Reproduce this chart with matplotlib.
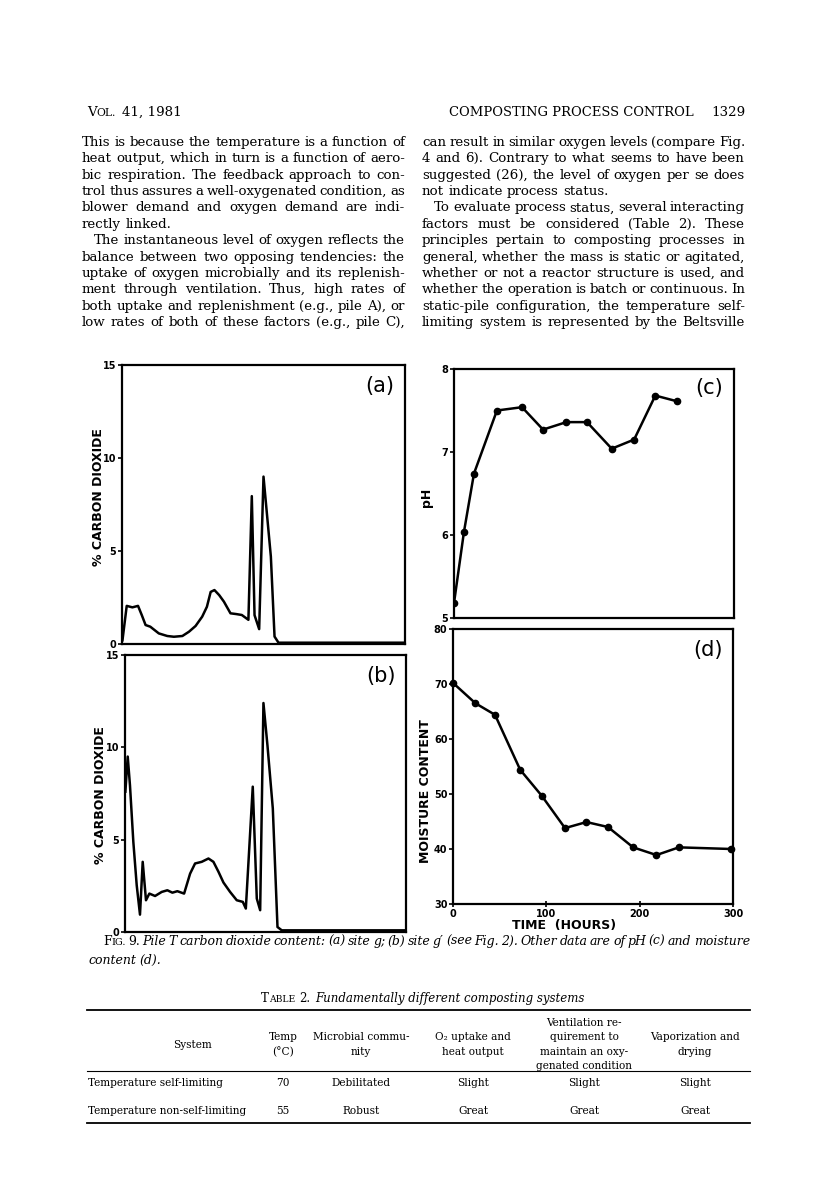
import numpy as np
import matplotlib
matplotlib.use("Agg")
import matplotlib.pyplot as plt
from matplotlib.font_manager import FontProperties
from matplotlib.lines import Line2D

# ---- data ----
time_a = [0.5, 5, 11, 17, 21, 25, 30, 39, 48, 55, 64, 71, 78, 85, 90, 94, 98, 103,
          108, 115, 121, 127, 134, 137.6, 140.5, 145.4, 150, 157.8, 161.7, 165.9, 300]
co2_a = [0.2, 2.05, 1.97, 2.05, 1.55, 1.02, 0.93, 0.57, 0.43, 0.39, 0.43, 0.66, 0.97, 1.47,
         2.0, 2.8, 2.9, 2.63, 2.28, 1.65, 1.61, 1.56, 1.3, 7.95, 1.55, 0.8, 9.0, 4.7, 0.4,
         0.07, 0.07]

time_b = [0.4, 2.9, 5.3, 8.9, 12.5, 16.0, 18.9, 22.4, 26.0, 32.1, 39.2, 45.2, 50.6, 55.9,
          63.1, 69.5, 74.8, 81.9, 89.1, 94.4, 99.8, 105.1, 112.2, 119.3, 125.8, 129.0,
          136.4, 140.7, 144.3, 147.8, 152.1, 157.8, 162.8, 167.4, 300]
co2_b = [7.6, 9.5, 7.95, 4.88, 2.53, 0.94, 3.8, 1.72, 2.08, 1.95, 2.17, 2.26, 2.13, 2.21,
         2.08, 3.16, 3.71, 3.8, 3.98, 3.8, 3.26, 2.68, 2.17, 1.72, 1.63, 1.27,
         7.87, 1.81, 1.18, 12.4, 10.1, 6.69, 0.27, 0.09, 0.09]

time_c = [0, 10.7, 21.4, 46, 72.9, 95.4, 120.4, 142.5, 169, 193, 215.7, 239.3]
ph_c = [5.18, 6.04, 6.74, 7.50, 7.54, 7.27, 7.36, 7.36, 7.04, 7.15, 7.68, 7.61]

time_d = [0, 24, 45, 72, 95, 120, 143, 166, 193, 218, 242, 298]
moisture_d = [70.2, 66.5, 64.4, 54.4, 49.7, 43.8, 44.9, 44.0, 40.3, 38.9, 40.3, 40.0]

co2_ticks = [0, 5, 10, 15]
ph_ticks = [5, 6, 7, 8]
moisture_ticks = [30, 40, 50, 60, 70, 80]
time_ticks = [0, 100, 200, 300]

left_lines = [
    "This is because the temperature is a function of",
    "heat output, which in turn is a function of aero-",
    "bic respiration. The feedback approach to con-",
    "trol thus assures a well-oxygenated condition, as",
    "blower demand and oxygen demand are indi-",
    "rectly linked.",
    "The instantaneous level of oxygen reflects the",
    "balance between two opposing tendencies: the",
    "uptake of oxygen microbially and its replenish-",
    "ment through ventilation. Thus, high rates of",
    "both uptake and replenishment (e.g., pile A), or",
    "low rates of both of these factors (e.g., pile C),",
]
right_lines = [
    "can result in similar oxygen levels (compare Fig.",
    "4 and 6). Contrary to what seems to have been",
    "suggested (26), the level of oxygen per se does",
    "not indicate process status.",
    "To evaluate process status, several interacting",
    "factors must be considered (Table 2). These",
    "principles pertain to composting processes in",
    "general, whether the mass is static or agitated,",
    "whether or not a reactor structure is used, and",
    "whether the operation is batch or continuous. In",
    "static-pile configuration, the temperature self-",
    "limiting system is represented by the Beltsville",
]
left_para_end, left_indent = [5], [6]
right_para_end, right_indent = [3], [4]

caption_1 = "Pile T carbon dioxide content: (a) site g; (b) site g\u2032 (see Fig. 2). Other data are of pH (c) and moisture"
caption_2 = "content (d)."
table_title = "Fundamentally different composting systems"
table_header = [["System"], ["Temp", "(\u00b0C)"], ["Microbial commu-", "nity"],
                ["O\u2082 uptake and", "heat output"],
                ["Ventilation re-", "quirement to", "maintain an oxy-", "genated condition"],
                ["Vaporization and", "drying"]]
table_rows = [["Temperature self-limiting", "70", "Debilitated", "Slight", "Slight", "Slight"],
              ["Temperature non-self-limiting", "55", "Robust", "Great", "Great", "Great"]]

# ---- page ----
W, H = 816, 1193
fig = plt.figure(figsize=(W / 100, H / 100), dpi=100)
renderer = fig.canvas.get_renderer()
SERIF = "DejaVu Serif"


def fx(x):
    return x / W


def fy(y):
    return 1 - y / H


def fp(size, style="normal", weight="normal", family=SERIF):
    return FontProperties(family=family, size=size, style=style, weight=weight)


def tw(s, f):
    return renderer.get_text_width_height_descent(s, f, ismath=False)[0]


def space_of(f):
    return tw("a a", f) - tw("aa", f)


def put_segs(segs, x, yb):
    for s, f in segs:
        fig.text(fx(x), fy(yb), s, fontproperties=f, ha="left", va="baseline")
        x += tw(s, f)
    return x


def seg_width(segs):
    return sum(tw(s, f) for s, f in segs)


def draw_words(words, x0, x1, yb, justify):
    widths = [seg_width(w) for w in words]
    gap = space_of(words[0][0][1])
    if justify and len(words) > 1:
        gap = (x1 - x0 - sum(widths)) / (len(words) - 1)
    x = x0
    for w, wd in zip(words, widths):
        put_segs(w, x, yb)
        x += wd + gap


# body text size fitted to the column width (tight word spacing allowed)
col_w = 323
indent = 12
ref = fp(10)
sp_ref = space_of(ref)
ratios = []
for lines, ends, ind in [(left_lines, left_para_end, left_indent),
                         (right_lines, right_para_end, right_indent)]:
    for i, ln in enumerate(lines):
        if i in ends:
            continue
        target = col_w - (indent if i in ind else 0)
        ws = ln.split()
        nat = sum(tw(w, ref) for w in ws) + 0.55 * sp_ref * (len(ws) - 1)
        ratios.append(target / nat)
body_size = 10 * min(ratios)
body = fp(body_size)

for lines, ends, ind, x0 in [(left_lines, left_para_end, left_indent, 82),
                             (right_lines, right_para_end, right_indent, 422)]:
    for i, ln in enumerate(lines):
        xs = x0 + (indent if i in ind else 0)
        words = [[(w, body)] for w in ln.split()]
        draw_words(words, xs, x0 + col_w, 146 + 16.36 * i, i not in ends)

# running head
sc = fp(body_size * 0.8)
x = put_segs([("V", body), ("OL.", sc)], 87, 116)
put_segs([("41, 1981", body)], x + space_of(body) * 1.4, 116)
num_w = tw("1329", body)
put_segs([("1329", body)], 745 - num_w, 116)
head = "COMPOSTING PROCESS CONTROL"
head_f = fp(body_size * 0.8 * 245 / tw(head, sc))
hw = tw(head, head_f)
put_segs([(head, head_f)], 745 - num_w - 17 - hw, 116)

# ---- plots ----
def add_ax(x0, y0, x1, y1):
    ax = fig.add_axes([fx(x0), fy(y1), (x1 - x0) / W, (y1 - y0) / H])
    for s in ax.spines.values():
        s.set_linewidth(1.6)
    ax.tick_params(direction="out", length=3, width=1.2, labelsize=7, pad=1)
    ax.set_xlim(0, 300)
    return ax


tick_font = {"fontsize": 7, "fontweight": "bold", "family": "DejaVu Sans"}
lab_font = {"fontsize": 9, "fontweight": "bold", "family": "DejaVu Sans"}
pan_font = {"fontsize": 15, "family": "DejaVu Sans"}

ax_a = add_ax(122, 365, 405, 644)
ax_a.plot(time_a, co2_a, color="black", lw=1.8)
ax_a.set_ylim(0, 15)
ax_a.set_yticks(co2_ticks)
ax_a.set_yticklabels([str(t) for t in co2_ticks], **tick_font)
ax_a.set_xticks([])

ax_b = add_ax(125, 655, 406, 932)
ax_b.plot(time_b, co2_b, color="black", lw=1.8)
ax_b.set_ylim(0, 15)
ax_b.set_yticks(co2_ticks)
ax_b.set_yticklabels([str(t) for t in co2_ticks], **tick_font)
ax_b.set_xticks([])

ax_c = add_ax(454, 369, 734, 618)
ax_c.plot(time_c, ph_c, color="black", lw=1.8, marker="o", ms=4.5)
ax_c.set_ylim(5, 8)
ax_c.set_yticks(ph_ticks)
ax_c.set_yticklabels([str(t) for t in ph_ticks], **tick_font)
ax_c.set_xticks([])

ax_d = add_ax(453, 629, 733, 904)
ax_d.plot(time_d, moisture_d, color="black", lw=1.8, marker="o", ms=4.5, clip_on=False)
ax_d.set_ylim(30, 80)
ax_d.set_yticks(moisture_ticks)
ax_d.set_yticklabels([str(t) for t in moisture_ticks], **tick_font)
ax_d.set_xticks(time_ticks)
ax_d.set_xticklabels([str(t) for t in time_ticks], **tick_font)
ax_d.tick_params(axis="x", direction="inout", length=5)

for ax, lab in [(ax_a, "(a)"), (ax_b, "(b)"), (ax_c, "(c)"), (ax_d, "(d)")]:
    ax.text(0.91, 0.925, lab, transform=ax.transAxes, ha="center", va="center", **pan_font)

fig.text(fx(98), fy(497), "% CARBON DIOXIDE", rotation=90, ha="center", va="center", **lab_font)
fig.text(fx(100), fy(795), "% CARBON DIOXIDE", rotation=90, ha="center", va="center", **lab_font)
fig.text(fx(427), fy(497), "pH", rotation=90, ha="center", va="center", **lab_font)
fig.text(fx(425), fy(791), "MOISTURE CONTENT", rotation=90, ha="center", va="center", **lab_font)
fig.text(fx(564), fy(925), "TIME  (HOURS)", ha="center", va="center", **lab_font)

# ---- caption ----
cap_size = body_size
nat = 0
for _ in range(2):
    cap_it = fp(cap_size, style="italic")
    cap_rm = fp(cap_size)
    cap_sc = fp(cap_size * 0.78)
    words = [[("F", cap_rm), ("IG.", cap_sc)], [("9.", cap_rm)]] + \
            [[(w, cap_it)] for w in caption_1.split()]
    nat = sum(seg_width(w) for w in words) + 0.6 * space_of(cap_it) * (len(words) - 1)
    if nat <= 647:
        break
    cap_size = cap_size * 647 / nat
draw_words(words, 103, 750, 945, True)
draw_words([[(w, cap_it)] for w in caption_2.split()], 88, 750, 964, False)

# ---- table ----
t_rm = fp(7.6)
t_it = fp(8.5, style="italic")
t_ti = fp(8.5)
t_sc = fp(8.5 * 0.78)
title_segs = [("T", t_ti), ("ABLE", t_sc)]
w_title = seg_width(title_segs) + space_of(t_ti) + tw("2.", t_ti) + space_of(t_ti) * 1.5 + tw(table_title, t_it)
x = 423 - w_title / 2
x = put_segs(title_segs, x, 1002)
x = put_segs([("2.", t_ti)], x + space_of(t_ti), 1002)
put_segs([(table_title, t_it)], x + space_of(t_ti) * 1.5, 1002)

for yy, lw in [(1010, 1.3), (1071, 0.8), (1123, 1.3)]:
    fig.add_artist(Line2D([fx(87), fx(750)], [fy(yy), fy(yy)], color="black", lw=lw,
                          transform=fig.transFigure))

col_x = [192, 283, 361, 473, 584, 695]
for cx, cell in zip(col_x, table_header):
    n = len(cell)
    for k, s in enumerate(cell):
        yy = 1044.5 + (k - (n - 1) / 2) * 14.3
        fig.text(fx(cx), fy(yy), s, fontproperties=t_rm, ha="center", va="center")

for r, yy in zip(table_rows, [1083.5, 1110.5]):
    fig.text(fx(88), fy(yy), r[0], fontproperties=t_rm, ha="left", va="center")
    for cx, s in zip(col_x[1:], r[1:]):
        fig.text(fx(cx), fy(yy), s, fontproperties=t_rm, ha="center", va="center")

fig.savefig("out.png", dpi=100)
